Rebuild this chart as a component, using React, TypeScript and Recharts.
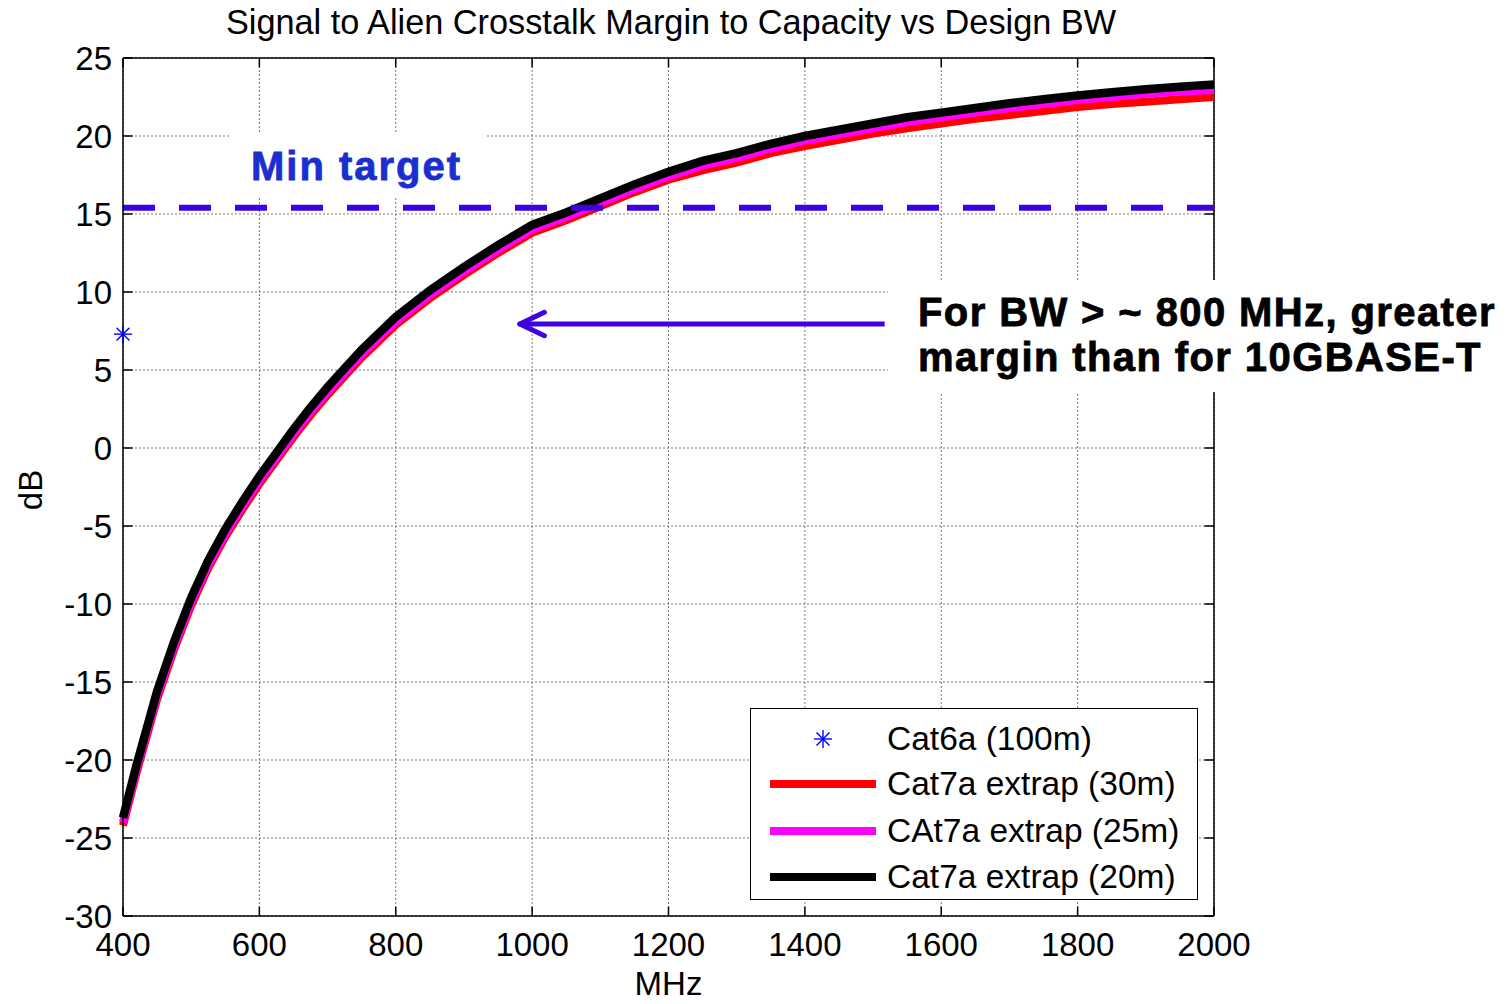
import React from 'react';
import {
  ComposedChart,
  Line,
  Scatter,
  XAxis,
  YAxis,
  CartesianGrid,
  ReferenceLine,
  Legend,
} from 'recharts';

// ---- data ----
const freqs = [400, 420, 450, 475, 500, 525, 550, 575, 600, 625, 650, 675, 700, 750, 800, 850, 900, 950, 1000, 1050, 1100, 1150, 1200, 1250, 1300, 1350, 1400, 1450, 1500, 1550, 1600, 1650, 1700, 1750, 1800, 1850, 1900, 1950, 2000];
const cat7a30m = [-24.2, -20.8, -16.1, -12.9, -10.1, -7.7, -5.7, -3.95, -2.3, -0.8, 0.7, 2.1, 3.4, 5.8, 7.9, 9.6, 11.1, 12.5, 13.8, 14.6, 15.5, 16.4, 17.2, 17.8, 18.3, 18.9, 19.35, 19.75, 20.15, 20.5, 20.8, 21.1, 21.35, 21.6, 21.85, 22.05, 22.2, 22.35, 22.5];
const cat7a25m = [-24.0, -20.6, -15.9, -12.7, -9.9, -7.5, -5.5, -3.75, -2.1, -0.6, 0.9, 2.3, 3.6, 6.0, 8.1, 9.8, 11.3, 12.7, 14.0, 14.8, 15.7, 16.6, 17.4, 18.1, 18.6, 19.2, 19.7, 20.1, 20.5, 20.9, 21.2, 21.5, 21.8, 22.05, 22.3, 22.5, 22.7, 22.85, 22.95];
const cat7a20m = [-23.7, -20.3, -15.6, -12.4, -9.6, -7.2, -5.2, -3.45, -1.8, -0.3, 1.2, 2.6, 3.9, 6.3, 8.4, 10.1, 11.6, 13.0, 14.3, 15.1, 16.0, 16.9, 17.7, 18.4, 18.9, 19.5, 20.0, 20.4, 20.8, 21.2, 21.5, 21.8, 22.1, 22.35, 22.6, 22.8, 23.0, 23.15, 23.3];
const cat6aFreq = [400];
const cat6aValue = [7.3];

const xTicks = [400, 600, 800, 1000, 1200, 1400, 1600, 1800, 2000];
const yTicks = [-30, -25, -20, -15, -10, -5, 0, 5, 10, 15, 20, 25];
const minTargetDb = 15.4;

const seriesNames = ['Cat6a (100m)', 'Cat7a extrap (30m)', 'CAt7a extrap (25m)', 'Cat7a extrap (20m)'];
const seriesColors = ['#0000FF', '#FF0000', '#FF00FF', '#000000'];

// arrow annotation (data coordinates)
const arrowY = 7.95;
const arrowFrom = 1517;
const arrowTo = 982;

const rows = freqs.map((f, i) => ({ f, c30: cat7a30m[i], c25: cat7a25m[i], c20: cat7a20m[i] }));
const cat6aRows = cat6aFreq.map((f, i) => ({ f, v: cat6aValue[i] }));

const FONT = '"Liberation Sans", Arial, Helvetica, sans-serif';
const X_MIN = 400;
const X_MAX = 2000;
const Y_MIN = -30;
const Y_MAX = 25;
const TICK_DX = 14; // MHz ~ 10px
const TICK_DY = 0.6; // dB ~ 10px
const PURPLE = '#4000E0';

const Asterisk = ({ cx, cy, r = 7, color = '#0000FF' }: any) => {
  const d = r * 0.72;
  return (
    <g stroke={color} strokeWidth={1.4}>
      <line x1={cx - r} y1={cy} x2={cx + r} y2={cy} />
      <line x1={cx} y1={cy - r} x2={cx} y2={cy + r} />
      <line x1={cx - d} y1={cy - d} x2={cx + d} y2={cy + d} />
      <line x1={cx - d} y1={cy + d} x2={cx + d} y2={cy - d} />
    </g>
  );
};

const LegendBox = () => {
  const rowsY = [30, 75, 122, 168];
  return (
    <div
      style={{
        position: 'relative',
        width: 446,
        height: 190,
        border: '1.5px solid #000',
        background: '#fff',
        fontFamily: FONT,
        fontSize: 33.5,
        color: '#000',
      }}
    >
      {seriesNames.map((name, i) => (
        <div key={name}>
          <svg
            width={120}
            height={24}
            style={{ position: 'absolute', left: 12, top: rowsY[i] - 12 }}
          >
            {i === 0 ? (
              <Asterisk cx={60} cy={12} r={9} color={seriesColors[0]} />
            ) : (
              <line x1={7} y1={12} x2={113} y2={12} stroke={seriesColors[i]} strokeWidth={8} />
            )}
          </svg>
          <div
            style={{
              position: 'absolute',
              left: 136,
              top: rowsY[i] - 19,
              lineHeight: '38px',
              whiteSpace: 'nowrap',
            }}
          >
            {name}
          </div>
        </div>
      ))}
    </div>
  );
};

export default function App() {
  const tickStyle = { fontFamily: FONT, fontSize: 33, fill: '#000' };
  return (
    <div style={{ position: 'absolute', left: 0, top: 0, width: 1511, height: 1004, background: '#fff', fontFamily: FONT }}>
      <ComposedChart
        width={1511}
        height={1004}
        data={rows}
        margin={{ top: 58, right: 297, bottom: 0, left: 0 }}
      >
        <CartesianGrid stroke="#777" strokeDasharray="2 2" strokeWidth={1} />
        <XAxis
          type="number"
          dataKey="f"
          domain={[X_MIN, X_MAX]}
          ticks={xTicks}
          height={88}
          tickLine={false}
          tickMargin={11}
          axisLine={{ stroke: '#000', strokeWidth: 1.5 }}
          tick={tickStyle}
          label={{ value: 'MHz', position: 'insideBottom', offset: 9, style: { fontFamily: FONT, fontSize: 33, fill: '#000' } }}
        />
        <YAxis
          type="number"
          domain={[Y_MIN, Y_MAX]}
          ticks={yTicks}
          width={123}
          tickLine={false}
          tickMargin={5}
          axisLine={{ stroke: '#000', strokeWidth: 1.5 }}
          tick={tickStyle}
          label={{
            content: (p: any) => {
              const vb = p.viewBox || { x: 0, y: 58, width: 123, height: 858 };
              const cx = vb.x + 30;
              const cy = vb.y + vb.height / 2 + 3;
              return (
                <text
                  x={cx}
                  y={cy}
                  transform={`rotate(-90 ${cx} ${cy})`}
                  textAnchor="middle"
                  dominantBaseline="central"
                  style={{ fontFamily: FONT, fontSize: 33, fill: '#000' }}
                >
                  dB
                </text>
              );
            },
          }}
        />
        {/* box: top and right borders */}
        <ReferenceLine y={Y_MAX} stroke="#000" strokeWidth={1.5} />
        <ReferenceLine x={X_MAX} stroke="#000" strokeWidth={1.5} />
        {/* inward ticks on all four sides */}
        {xTicks.map((t) => (
          <ReferenceLine key={`xb${t}`} segment={[{ x: t, y: Y_MIN }, { x: t, y: Y_MIN + TICK_DY }]} stroke="#000" strokeWidth={1.5} />
        ))}
        {xTicks.map((t) => (
          <ReferenceLine key={`xt${t}`} segment={[{ x: t, y: Y_MAX }, { x: t, y: Y_MAX - TICK_DY }]} stroke="#000" strokeWidth={1.5} />
        ))}
        {yTicks.map((t) => (
          <ReferenceLine key={`yl${t}`} segment={[{ x: X_MIN, y: t }, { x: X_MIN + TICK_DX, y: t }]} stroke="#000" strokeWidth={1.5} />
        ))}
        {yTicks.map((t) => (
          <ReferenceLine key={`yr${t}`} segment={[{ x: X_MAX, y: t }, { x: X_MAX - TICK_DX, y: t }]} stroke="#000" strokeWidth={1.5} />
        ))}
        <Line
          type="linear"
          dataKey="c30"
          name={seriesNames[1]}
          stroke={seriesColors[1]}
          strokeWidth={8}
          dot={false}
          activeDot={false}
          isAnimationActive={false}
        />
        <Line
          type="linear"
          dataKey="c25"
          name={seriesNames[2]}
          stroke={seriesColors[2]}
          strokeWidth={8}
          dot={false}
          activeDot={false}
          isAnimationActive={false}
        />
        <Line
          type="linear"
          dataKey="c20"
          name={seriesNames[3]}
          stroke={seriesColors[3]}
          strokeWidth={8.5}
          dot={false}
          activeDot={false}
          isAnimationActive={false}
        />
        <Scatter
          data={cat6aRows}
          dataKey="v"
          name={seriesNames[0]}
          fill={seriesColors[0]}
          isAnimationActive={false}
          shape={(p: any) => <Asterisk cx={p.cx} cy={p.cy} r={9} color={seriesColors[0]} />}
        />
        {/* Min target dashed line */}
        <ReferenceLine y={minTargetDb} stroke={PURPLE} strokeWidth={6} strokeDasharray="32 24" />
        {/* arrow */}
        <ReferenceLine segment={[{ x: arrowFrom, y: arrowY }, { x: arrowTo, y: arrowY }]} stroke={PURPLE} strokeWidth={5} />
        <ReferenceLine segment={[{ x: arrowTo, y: arrowY }, { x: arrowTo + 36, y: arrowY + 0.75 }]} stroke={PURPLE} strokeWidth={5} strokeLinecap="round" />
        <ReferenceLine segment={[{ x: arrowTo, y: arrowY }, { x: arrowTo + 36, y: arrowY - 0.75 }]} stroke={PURPLE} strokeWidth={5} strokeLinecap="round" />
        <Legend
          layout="horizontal"
          verticalAlign="middle"
          align="center"
          wrapperStyle={{ position: 'absolute', left: 750, top: 708, width: 449, height: 193 }}
          content={() => <LegendBox />}
        />
      </ComposedChart>

      {/* title */}
      <div
        style={{
          position: 'absolute',
          left: 0,
          top: 3,
          width: 1342,
          textAlign: 'center',
          fontFamily: FONT,
          fontSize: 34.3,
          lineHeight: '38px',
          color: '#000',
          whiteSpace: 'nowrap',
        }}
      >
        Signal to Alien Crosstalk Margin to Capacity vs Design BW
      </div>

      {/* Min target label */}
      <div
        style={{
          position: 'absolute',
          left: 230,
          top: 133,
          width: 255,
          height: 65,
          background: '#fff',
        }}
      >
        <div
          style={{
            position: 'absolute',
            left: 21,
            top: 11,
            fontFamily: FONT,
            fontWeight: 900,
            fontSize: 40,
            letterSpacing: 2,
            lineHeight: '44px',
            color: '#1B2FD0',
            whiteSpace: 'nowrap',
            WebkitTextStroke: '0.8px #1B2FD0',
          }}
        >
          Min target
        </div>
      </div>

      {/* right annotation */}
      <div
        style={{
          position: 'absolute',
          left: 888,
          top: 280,
          width: 623,
          height: 112,
          background: '#fff',
        }}
      >
        <div
          style={{
            position: 'absolute',
            left: 30,
            top: 10,
            fontFamily: FONT,
            fontWeight: 900,
            fontSize: 40,
            letterSpacing: 1.4,
            lineHeight: '45px',
            color: '#000',
            whiteSpace: 'nowrap',
            WebkitTextStroke: '0.8px #000',
          }}
        >
          For BW &gt; ~ 800 MHz, greater
          <br />
          margin than for 10GBASE-T
        </div>
      </div>
    </div>
  );
}
